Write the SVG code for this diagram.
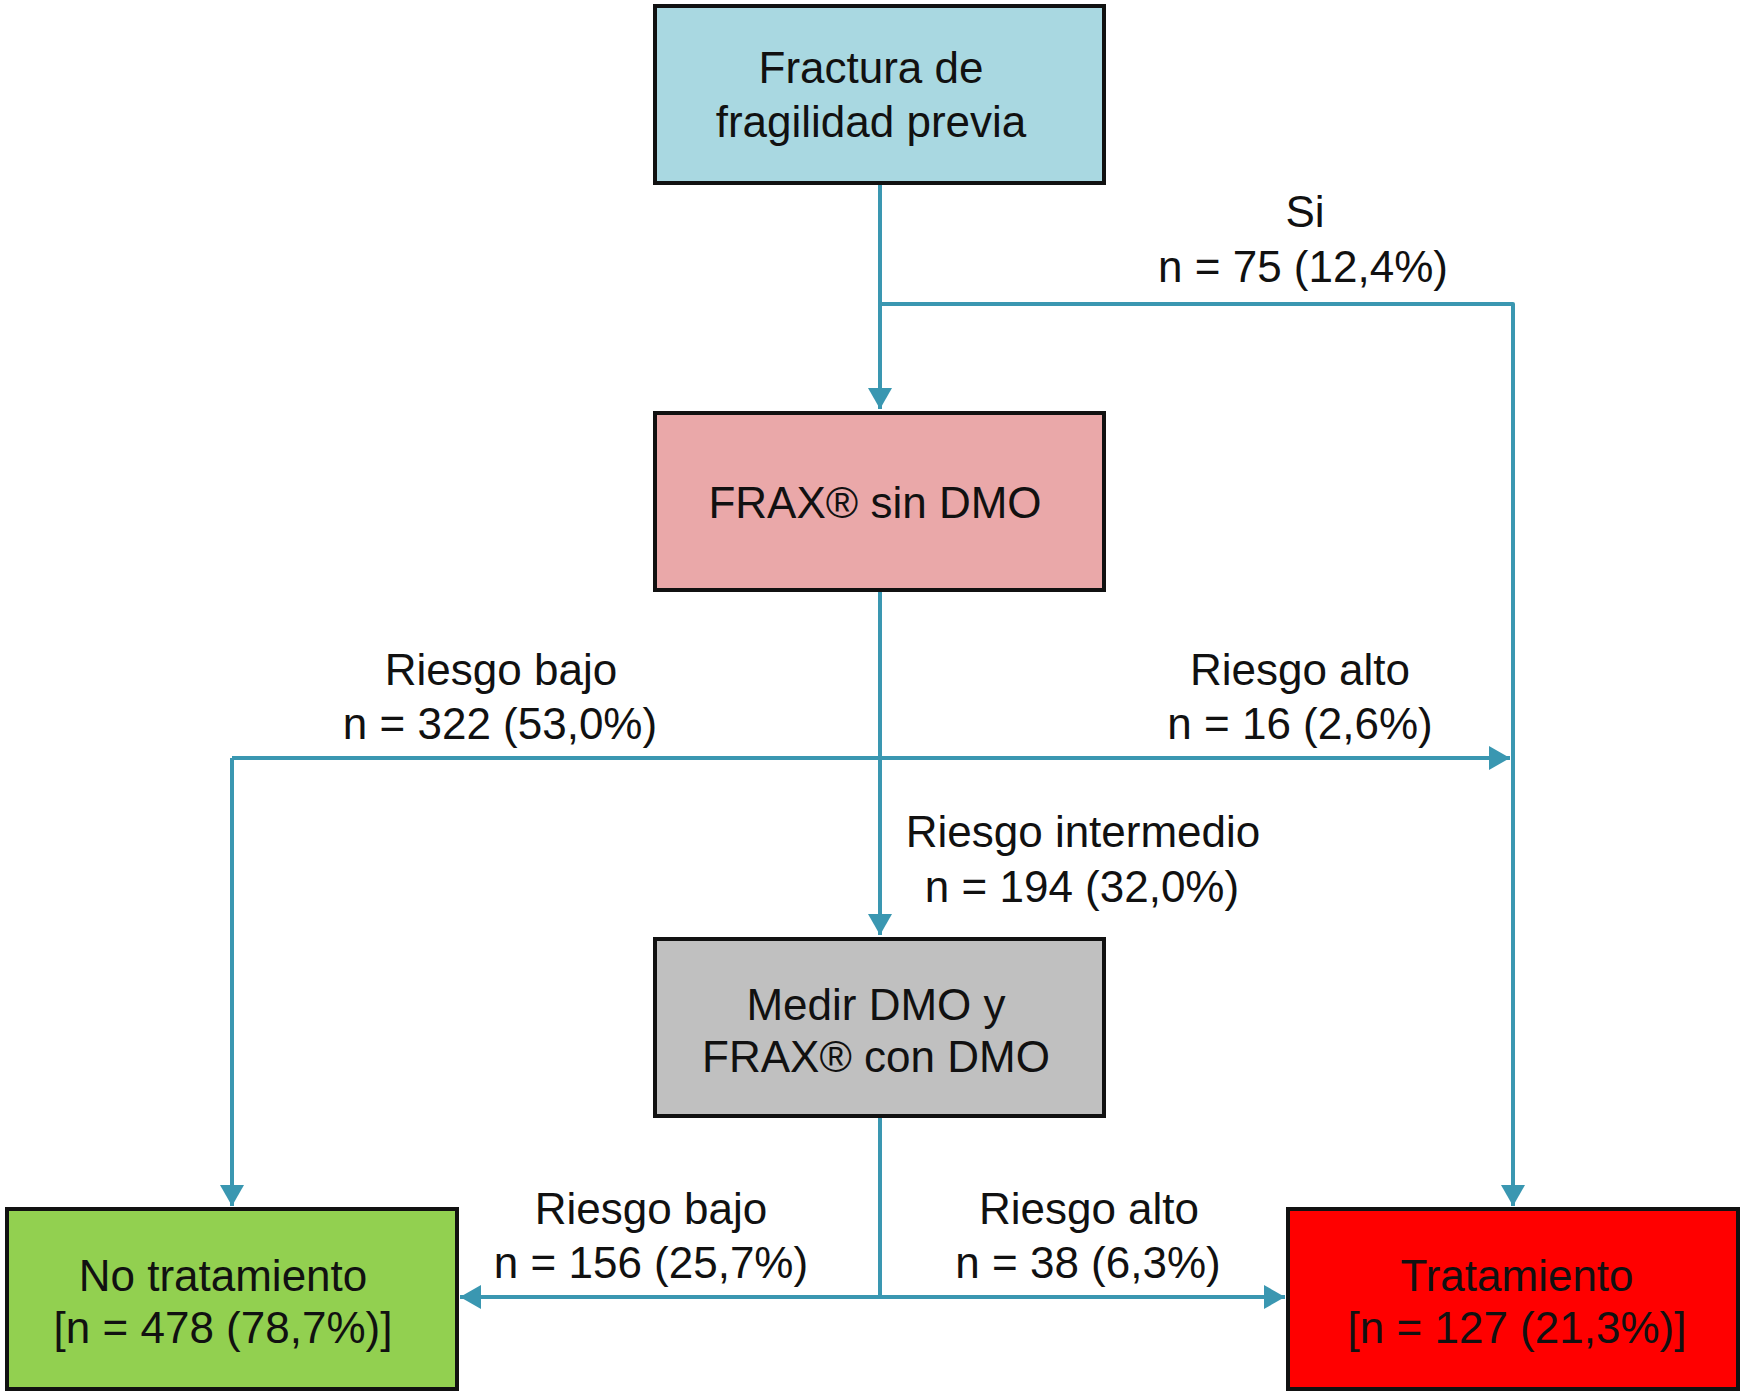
<svg xmlns="http://www.w3.org/2000/svg" width="1742" height="1395" viewBox="0 0 1742 1395">
<style>
.box{stroke:#111;stroke-width:4}
.t{font-family:"Liberation Sans",Arial,Helvetica,sans-serif;font-size:44px;fill:#111;text-anchor:middle}
.c{fill:none;stroke:#3a97b1;stroke-width:4;stroke-linejoin:round}
</style>
<defs>
<marker id="ah" markerUnits="userSpaceOnUse" markerWidth="22" markerHeight="26" refX="21" refY="13" orient="auto">
<path d="M0,1 L21,13 L0,25 Z" fill="#3a97b1"/>
</marker>
</defs>
<rect width="1742" height="1395" fill="#fff"/>
<g id="connectors">
<path class="c" d="M880,185 V409" marker-end="url(#ah)"/>
<path class="c" d="M880,304 H1513 V1206" marker-end="url(#ah)"/>
<path class="c" d="M880,590 V935" marker-end="url(#ah)"/>
<path class="c" d="M232,758 H1510" marker-end="url(#ah)"/>
<path class="c" d="M232,758 V1206" marker-end="url(#ah)"/>
<path class="c" d="M880,1118 V1297 H460" marker-end="url(#ah)"/>
<path class="c" d="M880,1297 H1285" marker-end="url(#ah)"/>
</g>
<g id="n1">
<rect class="box" x="655" y="6" width="449" height="177" fill="#a9d8e1"/>
<text class="t" x="871" y="83">Fractura de</text>
<text class="t" x="871" y="137">fragilidad previa</text>
</g>
<g id="n2">
<rect class="box" x="655" y="413" width="449" height="177" fill="#eaa8a9"/>
<text class="t" x="875" y="518">FRAX® sin DMO</text>
</g>
<g id="n3">
<rect class="box" x="655" y="939" width="449" height="177" fill="#c0c0c0"/>
<text class="t" x="876" y="1020">Medir DMO y</text>
<text class="t" x="876" y="1072">FRAX® con DMO</text>
</g>
<g id="n4">
<rect class="box" x="7" y="1209" width="450" height="180" fill="#92d050"/>
<text class="t" x="223" y="1291">No tratamiento</text>
<text class="t" x="223" y="1343">[n = 478 (78,7%)]</text>
</g>
<g id="n5">
<rect class="box" x="1288" y="1209" width="450" height="180" fill="#ff0000"/>
<text class="t" x="1517" y="1291">Tratamiento</text>
<text class="t" x="1517" y="1343">[n = 127 (21,3%)]</text>
</g>
<g id="labels">
<text class="t" x="1305" y="227">Si</text>
<text class="t" x="1303" y="282">n = 75 (12,4%)</text>
<text class="t" x="501" y="685">Riesgo bajo</text>
<text class="t" x="500" y="739">n = 322 (53,0%)</text>
<text class="t" x="1300" y="685">Riesgo alto</text>
<text class="t" x="1300" y="739">n = 16 (2,6%)</text>
<text class="t" x="1083" y="847">Riesgo intermedio</text>
<text class="t" x="1082" y="902">n = 194 (32,0%)</text>
<text class="t" x="651" y="1224">Riesgo bajo</text>
<text class="t" x="651" y="1278">n = 156 (25,7%)</text>
<text class="t" x="1089" y="1224">Riesgo alto</text>
<text class="t" x="1088" y="1278">n = 38 (6,3%)</text>
</g>
</svg>
